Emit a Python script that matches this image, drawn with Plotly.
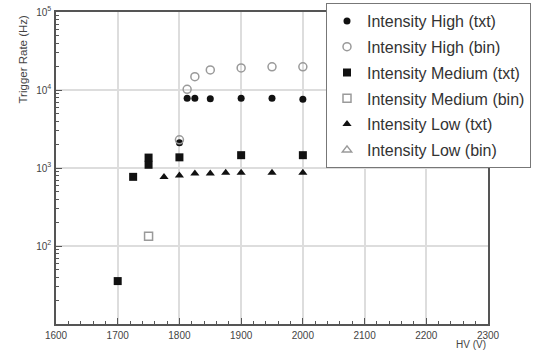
import plotly.graph_objects as go

# ---- data ----
hv_high_txt = [1800, 1812.5, 1825, 1850, 1900, 1950, 2000]
rate_high_txt = [2110, 7840, 7840, 7700, 7840, 7840, 7600]

hv_high_bin = [1800, 1812.5, 1825, 1850, 1900, 1950, 2000]
rate_high_bin = [2300, 10200, 14800, 18100, 19200, 19800, 19800]

hv_med_txt = [1700, 1725, 1750, 1750, 1800, 1900, 2000]
rate_med_txt = [35.5, 770, 1100, 1360, 1370, 1460, 1460]

hv_med_bin = [1750]
rate_med_bin = [133]

hv_low_txt = [1775, 1800, 1825, 1850, 1875, 1900, 1950, 2000]
rate_low_txt = [765, 800, 850, 850, 870, 870, 870, 870]

hv_low_bin = [None]
rate_low_bin = [None]

x_ticks = [1600, 1700, 1800, 1900, 2000, 2100, 2200, 2300]
y_ticks = [100, 1000, 10000, 100000]
y_tick_text = ["10<sup>2</sup>", "10<sup>3</sup>", "10<sup>4</sup>", "10<sup>5</sup>"]

BLACK = "#111111"
GRAY = "#9a9a9a"

series = [
    ("Intensity High (txt)", hv_high_txt, rate_high_txt, "circle", BLACK, 7),
    ("Intensity High (bin)", hv_high_bin, rate_high_bin, "circle-open", GRAY, 8),
    ("Intensity Medium (txt)", hv_med_txt, rate_med_txt, "square", BLACK, 8),
    ("Intensity Medium (bin)", hv_med_bin, rate_med_bin, "square-open", GRAY, 8),
    ("Intensity Low (txt)", hv_low_txt, rate_low_txt, "triangle-up", BLACK, 8),
    ("Intensity Low (bin)", hv_low_bin, rate_low_bin, "triangle-up-open", GRAY, 8),
]

fig = go.Figure()
for i, (name, xs, ys, sym, col, sz) in enumerate(series):
    fig.add_trace(go.Scatter(
        x=xs, y=ys, mode="markers", name=name, legendgroup=str(i),
        showlegend=True,
        marker=dict(symbol=sym, color=col, size=sz,
                    line=dict(color=col, width=1.5 if "open" in sym else 0)),
    ))

axis_col = "#555555"
fig.update_layout(
    width=534, height=352,
    margin=dict(l=56, r=46, t=12, b=28, autoexpand=False),
    paper_bgcolor="white", plot_bgcolor="white",
    font=dict(family="Liberation Sans, Arial, sans-serif", color="#444444", size=10),
    showlegend=True,
    legend=dict(
        x=(326 - 56) / 432, xanchor="left", y=1 + 9 / 312, yanchor="top",
        bgcolor="white", bordercolor="#777777", borderwidth=1,
        font=dict(size=16, color="#333333"), tracegroupgap=2,
        itemwidth=30,
    ),
    xaxis=dict(
        range=[1600, 2300], tickvals=x_ticks, ticks="inside", ticklen=6,
        tickcolor=axis_col, showline=True, linecolor=axis_col, linewidth=1.5,
        mirror=True, showgrid=True, gridcolor="#dddddd", gridwidth=1.5,
        zeroline=False, tickfont=dict(size=10, color="#444444"),
        ticklabelstandoff=1,
        minor=dict(dtick=20, ticks="inside", ticklen=3, tickcolor=axis_col, showgrid=False),
    ),
    yaxis=dict(
        type="log", range=[1, 5], tickvals=y_ticks, ticktext=y_tick_text,
        ticks="inside", ticklen=6, tickcolor=axis_col,
        showline=True, linecolor=axis_col, linewidth=1.5, mirror=True,
        showgrid=True, gridcolor="#dddddd", gridwidth=1.5, zeroline=False,
        tickfont=dict(size=10, color="#444444"),
        ticklabelstandoff=1,
        minor=dict(dtick="D1", ticks="inside", ticklen=3, tickcolor=axis_col, showgrid=False),
    ),
    annotations=[
        dict(text="Trigger Rate (Hz)", xref="paper", yref="paper",
             x=-34 / 432, y=1 - 1 / 312, xanchor="center", yanchor="top",
             textangle=-90, showarrow=False, font=dict(size=11.5, color="#444444")),
        dict(text="HV (V)", xref="paper", yref="paper",
             x=1, y=-20 / 312, xanchor="right", yanchor="middle",
             showarrow=False, font=dict(size=10, color="#444444")),
    ],
)

fig.write_html("out.html", config={"displayModeBar": False},
               post_script="document.body.style.margin='0';document.body.style.padding='0';")
